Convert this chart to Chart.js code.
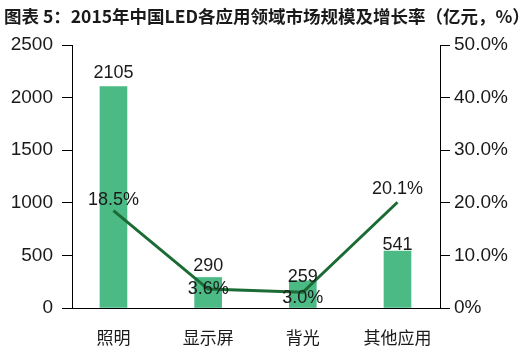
<!DOCTYPE html>
<html>
<head>
<meta charset="utf-8">
<script src="https://cdn.jsdelivr.net/npm/chart.js@4/dist/chart.umd.min.js"></script>
<style>
  html, body { margin: 0; padding: 0; background: #fff; }
  #wrap { position: relative; width: 520px; height: 355px; }
</style>
</head>
<body>
<div id="wrap"><canvas id="c" width="520" height="355"></canvas></div>
<script>
// Données du graphique
const categories = ['照明', '显示屏', '背光', '其他应用'];
const marketSize = [2105, 290, 259, 541];      // 亿元
const growthRate = [18.5, 3.6, 3.0, 20.1];      // %
const leftTicks = [0, 500, 1000, 1500, 2000, 2500];
const rightTicks = [0, 10, 20, 30, 40, 50];

const titleText = '图表 5：2015年中国LED各应用领域市场规模及增长率（亿元，%）';
const barColor = '#4cba85';
const lineColor = '#1b6b35';
const textColor = '#1a1a1a';
const numFont = '"Liberation Sans", Arial, sans-serif';
const cjkFont = '"Noto Sans CJK SC", sans-serif';

// Titre dessiné à la main
const titlePlugin = {
    id: 'titre',
    beforeDraw(chart) {
        const ctx = chart.ctx;
        ctx.save();
        ctx.fillStyle = textColor;
        ctx.font = 'bold 17.5px ' + cjkFont;
        ctx.textBaseline = 'middle';
        ctx.textAlign = 'left';
        ctx.fillText(titleText, 4, 16);
        ctx.restore();
    }
};

// Étiquettes de valeurs sur les barres et la courbe
const labelPlugin = {
    id: 'etiquettes',
    afterDatasetsDraw(chart) {
        const ctx = chart.ctx;
        ctx.save();
        ctx.fillStyle = textColor;
        ctx.font = '18px ' + numFont;
        ctx.textAlign = 'center';
        ctx.textBaseline = 'middle';
        const bars = chart.getDatasetMeta(0).data;
        const by = [-14, -11, -4, -6];
        bars.forEach(function(el, i) {
            ctx.fillText(String(marketSize[i]), el.x, el.y + by[i]);
        });
        const pts = chart.getDatasetMeta(1).data;
        const dy = [-11, 0, 6, -13];
        pts.forEach(function(el, i) {
            ctx.fillText(growthRate[i].toFixed(1) + '%', el.x, el.y + dy[i]);
        });
        ctx.restore();
    }
};

const barPoints = marketSize.map((v, i) => ({ x: i, y: v }));
const linePoints = growthRate.map((v, i) => ({ x: i, y: v }));

new Chart(document.getElementById('c'), {
    data: {
        datasets: [{
            type: 'bar',
            data: barPoints,
            backgroundColor: barColor,
            barThickness: 27,
            yAxisID: 'y',
            order: 2
        }, {
            type: 'line',
            data: linePoints,
            borderColor: lineColor,
            borderWidth: 3,
            pointRadius: 0,
            tension: 0,
            yAxisID: 'y1',
            order: 1
        }]
    },
    options: {
        responsive: false,
        animation: false,
        layout: { padding: { top: 45, left: 0, right: 0, bottom: 0 } },
        plugins: { legend: { display: false }, tooltip: { enabled: false } },
        scales: {
            x: {
                type: 'linear',
                offset: false,
                min: -0.438, max: 3.449,
                afterBuildTicks: function(s) { s.ticks = categories.map((c, i) => ({ value: i })); },
                grid: { display: false },
                border: { display: true, color: '#000', width: 1 },
                ticks: {
                    color: textColor, font: { family: cjkFont, size: 17 }, padding: 11,
                    callback: function(v) { return categories[v]; }
                },
                afterFit: function(s) { s.height = 47; }
            },
            y: {
                position: 'left',
                min: 0, max: 2500,
                afterBuildTicks: function(s) { s.ticks = leftTicks.map(v => ({ value: v })); },
                grid: { drawOnChartArea: false, drawTicks: true, tickLength: 10, color: '#000' },
                border: { display: true, color: '#000', width: 1 },
                ticks: {
                    color: textColor, font: { family: numFont, size: 19 }, padding: 9,
                    callback: function(v) { return String(v); }
                },
                afterFit: function(s) { s.width = 72; }
            },
            y1: {
                position: 'right',
                min: 0, max: 50,
                afterBuildTicks: function(s) { s.ticks = rightTicks.map(v => ({ value: v })); },
                grid: { drawOnChartArea: false, drawTicks: true, tickLength: 10, color: '#000' },
                border: { display: true, color: '#000', width: 1 },
                ticks: {
                    color: textColor, font: { family: numFont, size: 19 }, padding: 4,
                    callback: function(v) { return v === 0 ? '0%' : v.toFixed(1) + '%'; }
                },
                afterFit: function(s) { s.width = 80; }
            }
        }
    },
    plugins: [titlePlugin, labelPlugin]
});
</script>
</body>
</html>
